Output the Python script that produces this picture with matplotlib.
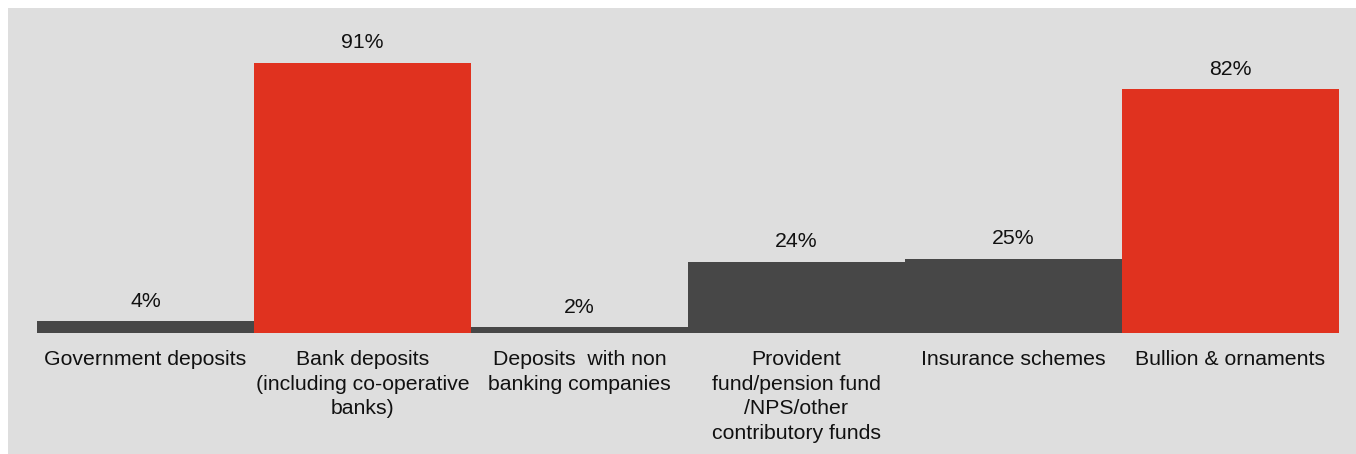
import matplotlib.pyplot as plt
from matplotlib.patches import Rectangle

plt.rcParams['font.family'] = ['Liberation Sans', 'DejaVu Sans']

categories = [
    'Government deposits',
    'Bank deposits\n(including co-operative\nbanks)',
    'Deposits  with non\nbanking companies',
    'Provident\nfund/pension fund\n/NPS/other\ncontributory funds',
    'Insurance schemes',
    'Bullion & ornaments',
]
values = [4, 91, 2, 24, 25, 82]
highlight = [False, True, False, False, False, True]

RED = '#e0321f'
DARK = '#474747'
PANEL = '#dedede'

W, H = 1356, 454
fig = plt.figure(figsize=(W / 100, H / 100), dpi=100, facecolor='white')

# grey panel behind the chart
fig.patches.append(Rectangle((8 / W, 0), 1 - 8 / W, 1 - 8 / H,
                             transform=fig.transFigure, facecolor=PANEL,
                             edgecolor='none', zorder=-1))

ax = fig.add_axes([37 / W, (H - 333) / H, (1339 - 37) / W, 297 / H])
ax.set_facecolor('none')
ax.set_zorder(1)

x = range(len(values))
colors = [RED if h else DARK for h in highlight]
bars = ax.bar(x, values, width=1.0, color=colors, edgecolor='none')

ax.set_xlim(-0.5, len(values) - 0.5)
ax.set_ylim(0, 100)

for bar, v in zip(bars, values):
    ax.annotate(f'{v}%', (bar.get_x() + bar.get_width() / 2, v),
                xytext=(0, 7.5), textcoords='offset points',
                ha='center', va='bottom', fontsize=15.3, color='#111111')

for i, label in enumerate(categories):
    ax.annotate(label, (i, 0), xytext=(0, -12.5), textcoords='offset points',
                ha='center', va='top', fontsize=15.3, color='#111111',
                linespacing=1.36, annotation_clip=False)

ax.set_xticks([])
ax.set_yticks([])
for spine in ax.spines.values():
    spine.set_visible(False)

fig.savefig('out.png', dpi=100, facecolor='white')
